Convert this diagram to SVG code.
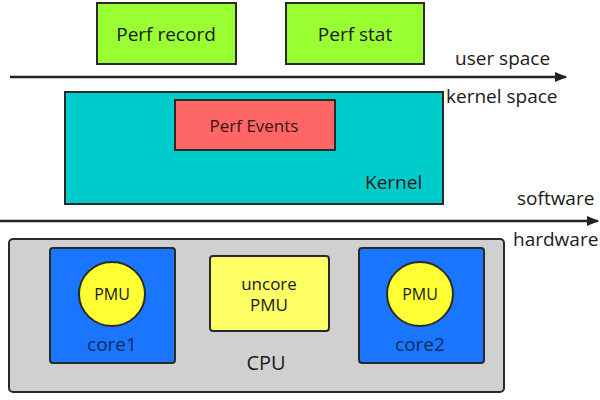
<svg xmlns="http://www.w3.org/2000/svg" width="600" height="400" viewBox="0 0 600 400">
<defs>
<style>
text{font-family:"Open Sans","Noto Sans","Liberation Sans",sans-serif;fill:#1a1a1a;}
.box{stroke:#2a2a2a;stroke-width:2;}
.lbl{font-size:19px;}
.mid{text-anchor:middle;}
.axis{stroke:#222;stroke-width:2.5;fill:none;}
.core-lbl{fill:#0d2a66;}
</style>
<marker id="ah" viewBox="0 0 10 10" refX="9" refY="5" markerWidth="5" markerHeight="5" orient="auto" markerUnits="strokeWidth">
<path d="M0,1 L10,5 L0,9 z" fill="#222"/>
</marker>
</defs>
<rect width="600" height="400" fill="#fff"/>
<g id="connectors">
<line class="axis" x1="10" y1="77" x2="566" y2="77" marker-end="url(#ah)"/>
<line class="axis" x1="0" y1="221" x2="598" y2="221" marker-end="url(#ah)"/>
</g>
<g id="labels">
<text class="lbl" x="455" y="65">user space</text>
<text class="lbl" x="446" y="103">kernel space</text>
<text class="lbl" x="517" y="205" font-size="18">software</text>
<text class="lbl" x="513" y="246" font-size="18">hardware</text>
</g>
<g id="perf-record">
<rect class="box" x="97" y="3" width="139" height="61" fill="#99ff33"/>
<text class="mid" x="166" y="41" font-size="19">Perf record</text>
</g>
<g id="perf-stat">
<rect class="box" x="286" y="3" width="138" height="61" fill="#99ff33"/>
<text class="mid" x="355" y="41" font-size="19">Perf stat</text>
</g>
<g id="kernel">
<rect class="box" x="65" y="92" width="378" height="112" fill="#00cccc"/>
<text x="365" y="189" font-size="19">Kernel</text>
</g>
<g id="perf-events">
<rect class="box" x="175" y="100" width="160" height="50" fill="#ff6666"/>
<text class="mid" x="254" y="132" font-size="17" style="fill:#3a1414">Perf Events</text>
</g>
<g id="cpu">
<rect class="box" x="9" y="239" width="495" height="153" rx="4" fill="#d0d0d0" stroke-width="1.5"/>
<text class="mid" x="266" y="370" font-size="20">CPU</text>
</g>
<g id="core1">
<rect class="box" x="50" y="248" width="125" height="115" rx="3" fill="#1a75ff" stroke-width="1.5"/>
<ellipse class="box" cx="112" cy="294" rx="33" ry="32" fill="#ffff33" stroke-width="1.5"/>
<text class="mid" x="112" y="300" font-size="16">PMU</text>
<text class="mid core-lbl" x="112" y="351" font-size="19">core1</text>
</g>
<g id="uncore-pmu">
<rect class="box" x="210" y="256" width="119" height="75" rx="3" fill="#ffff66" stroke-width="1.5"/>
<text class="mid" x="269" y="290" font-size="17">uncore</text>
<text class="mid" x="269" y="311" font-size="17">PMU</text>
</g>
<g id="core2">
<rect class="box" x="359" y="248" width="125" height="115" rx="3" fill="#1a75ff" stroke-width="1.5"/>
<ellipse class="box" cx="420" cy="294" rx="33" ry="32" fill="#ffff33" stroke-width="1.5"/>
<text class="mid" x="420" y="300" font-size="16">PMU</text>
<text class="mid core-lbl" x="420" y="351" font-size="19">core2</text>
</g>
</svg>
